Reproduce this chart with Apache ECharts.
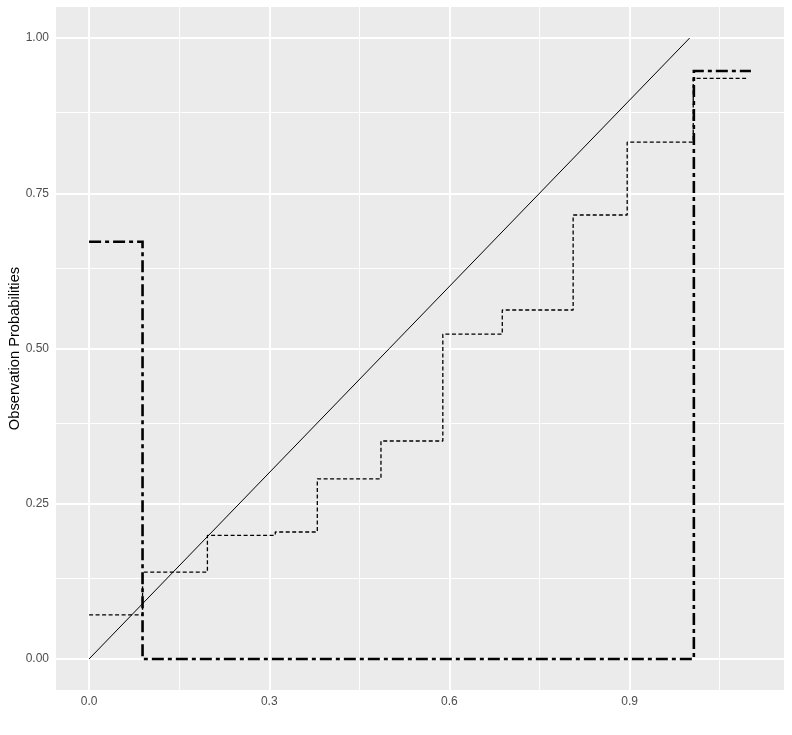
<!DOCTYPE html>
<html>
<head>
<meta charset="utf-8">
<script src="https://cdn.jsdelivr.net/npm/echarts@6/dist/echarts.min.js"></script>
<style>
html,body{margin:0;padding:0;background:#fff;}
#chart{width:792px;height:735px;}
</style>
</head>
<body>
<div id="chart"></div>
<script>
// ---- data ----
const diagX = [0, 1];
const diagY = [0, 1];

const obsX = [0, 0.089, 0.197, 0.310, 0.380, 0.486, 0.589, 0.688, 0.806, 0.896, 1.006, 1.097];
const obsY = [0.071, 0.140, 0.199, 0.2045, 0.290, 0.351, 0.523, 0.562, 0.715, 0.8325, 0.935, 0.935];

const altX = [0, 0.089, 1.007, 1.102];
const altY = [0.672, 0.0, 0.947, 0.947];

const xTicks = [0, 0.3, 0.6, 0.9];
const xMinor = [0.15, 0.45, 0.75, 1.05];
const yTicks = [0, 0.25, 0.5, 0.75, 1];
const yMinor = [0.125, 0.375, 0.625, 0.875];

const yTitle = 'Observation Probabilities';

// ---- chart ----
const pairs = (xs, ys) => xs.map((x, i) => [x, ys[i]]);
const FONT = '"Liberation Sans", Arial, sans-serif';

const gridMarks = [].concat(
  xTicks.map(v => ({ xAxis: v, lineStyle: { color: '#ffffff', width: 1.9, type: 'solid' } })),
  xMinor.map(v => ({ xAxis: v, lineStyle: { color: '#ffffff', width: 0.95, type: 'solid' } })),
  yTicks.map(v => ({ yAxis: v, lineStyle: { color: '#ffffff', width: 1.9, type: 'solid' } })),
  yMinor.map(v => ({ yAxis: v, lineStyle: { color: '#ffffff', width: 0.95, type: 'solid' } }))
);

const chart = echarts.init(document.getElementById('chart'), null, { renderer: 'canvas' });
chart.setOption({
  animation: false,
  backgroundColor: '#ffffff',
  grid: {
    left: 56, right: 8, top: 7, bottom: 45,
    containLabel: false, outerBoundsMode: 'none',
    show: true, backgroundColor: '#EBEBEB', borderWidth: 0
  },
  xAxis: {
    type: 'value',
    min: -0.0551, max: 1.1571,
    axisLine: { show: false },
    splitLine: { show: false },
    axisTick: { show: true, length: 3, lineStyle: { color: '#333333', width: 1 }, customValues: xTicks },
    axisLabel: {
      customValues: xTicks, margin: 6,
      color: '#4D4D4D', fontSize: 12, fontFamily: FONT,
      formatter: v => Number(v).toFixed(1)
    }
  },
  yAxis: {
    type: 'value',
    min: -0.05, max: 1.05,
    name: yTitle, nameLocation: 'middle', nameGap: 34, nameMoveOverlap: false,
    nameTextStyle: { color: '#000000', fontSize: 14.7, fontFamily: FONT },
    axisLine: { show: false },
    splitLine: { show: false },
    axisTick: { show: true, length: 3, lineStyle: { color: '#333333', width: 1 }, customValues: yTicks },
    axisLabel: {
      customValues: yTicks, margin: 7,
      color: '#4D4D4D', fontSize: 12, fontFamily: FONT,
      formatter: v => Number(v).toFixed(2)
    }
  },
  series: [
    {
      type: 'line', z: 1, data: [], silent: true,
      markLine: { z: 1, silent: true, symbol: ['none', 'none'], label: { show: false }, data: gridMarks, animation: false }
    },
    {
      type: 'line', z: 10, data: pairs(diagX, diagY), showSymbol: false, silent: true,
      lineStyle: { color: '#000000', width: 1, type: 'solid' }
    },
    {
      type: 'line', z: 11, step: 'end', data: pairs(obsX, obsY), showSymbol: false, silent: true,
      lineStyle: { color: '#000000', width: 1.3, type: [4, 2.5], cap: 'butt' }
    },
    {
      type: 'line', z: 12, step: 'end', data: pairs(altX, altY), showSymbol: false, silent: true,
      lineStyle: { color: '#000000', width: 2.6, type: [12, 4, 4, 4], cap: 'butt', join: 'miter' }
    }
  ]
});
</script>
</body>
</html>
